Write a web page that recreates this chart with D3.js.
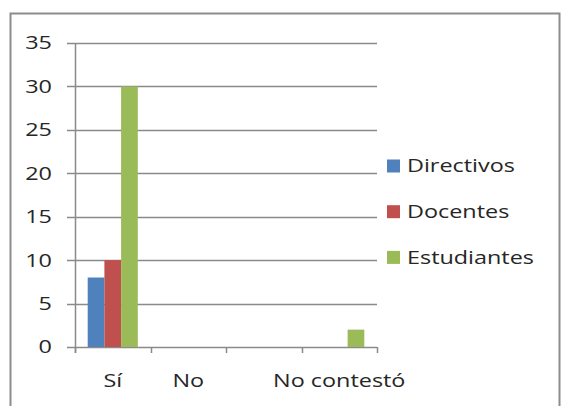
<!DOCTYPE html>
<html><head><meta charset="utf-8">
<script src="https://cdn.jsdelivr.net/npm/d3@7"></script>
<style>body{margin:0;background:#fff}svg{display:block}text{font-family:"Open Sans",sans-serif;fill:#262626}</style>
</head><body><svg id="c" width="561" height="406"></svg>
<script>
const categories = ["Sí", "No", "", "No contestó"];
const seriesNames = ["Directivos", "Docentes", "Estudiantes"];
const directivos = [8, 0, 0, 0];
const docentes = [10, 0, 0, 0];
const estudiantes = [30, 0, 0, 2];
const yTicks = [0, 5, 10, 15, 20, 25, 30, 35];
const colors = ["#4F81BD", "#C0504D", "#9BBB59"];

(function () {
const values = [directivos, docentes, estudiantes];
const svg = d3.select("#c");
const FS = 18, SX = 1.3;
function txt(sel, x, y, anchor) {
  // horizontally stretched text, anchored at (x, y)
  return sel.attr("transform", (d, i) => `translate(${typeof x === "function" ? x(d, i) : x},${typeof y === "function" ? y(d, i) : y}) scale(${SX},1)`)
    .attr("text-anchor", anchor).attr("font-size", FS);
}
svg.append("rect").attr("x", 10.5).attr("y", 13.5).attr("width", 549).attr("height", 400)
  .attr("fill", "#fff").attr("stroke", "#8c8c8c").attr("stroke-width", 2);

const mL = 75, mR = 377, mT = 43, mB = 347;
const x = d3.scaleBand().domain(categories.map((c, i) => i)).range([mL, mR]).paddingInner(0).paddingOuter(0);
const y = d3.scaleLinear().domain([0, 35]).range([mB, mT]);
const xs = d3.scaleBand().domain(d3.range(seriesNames.length)).range([0, x.bandwidth()]).paddingOuter(0.76).paddingInner(0);

svg.append("g").selectAll("line").data(yTicks).join("line")
  .attr("x1", mL - 8).attr("x2", mR).attr("y1", d => Math.round(y(d)) + 0.5).attr("y2", d => Math.round(y(d)) + 0.5)
  .attr("stroke", "#8a8a8a").attr("stroke-width", 1.5);

txt(svg.append("g").selectAll("text").data(yTicks).join("text"), 52, d => y(d), "end")
  .attr("dy", "0.36em").text(d => d);

const g = svg.append("g");
values.forEach((arr, si) => {
  g.selectAll(null).data(arr).join("rect")
    .attr("x", (d, i) => x(i) + xs(si)).attr("width", xs.bandwidth())
    .attr("y", d => y(d)).attr("height", d => y(0) - y(d))
    .attr("fill", colors[si]);
});

svg.append("line").attr("x1", mL + 0.5).attr("x2", mL + 0.5).attr("y1", mT).attr("y2", mB + 6)
  .attr("stroke", "#8a8a8a").attr("stroke-width", 1.5);
const xTickPos = d3.range(categories.length + 1).map(i => mL + i * x.bandwidth());
svg.append("g").selectAll("line").data(xTickPos).join("line")
  .attr("x1", d => Math.round(d) + 0.5).attr("x2", d => Math.round(d) + 0.5).attr("y1", mB).attr("y2", mB + 6)
  .attr("stroke", "#8a8a8a").attr("stroke-width", 1.5);

txt(svg.append("g").selectAll("text").data(categories).join("text"),
  (d, i) => x(i) + x.bandwidth() / 2, 387, "middle").text(d => d);

const lg = svg.append("g");
seriesNames.forEach((n, i) => {
  const cy = 166 + i * 45.7;
  lg.append("rect").attr("x", 387).attr("y", cy - 6.5).attr("width", 13).attr("height", 13).attr("fill", colors[i]);
  txt(lg.append("text"), 407, cy, "start").attr("dy", "0.36em").text(n);
});
})();
</script></body></html>
